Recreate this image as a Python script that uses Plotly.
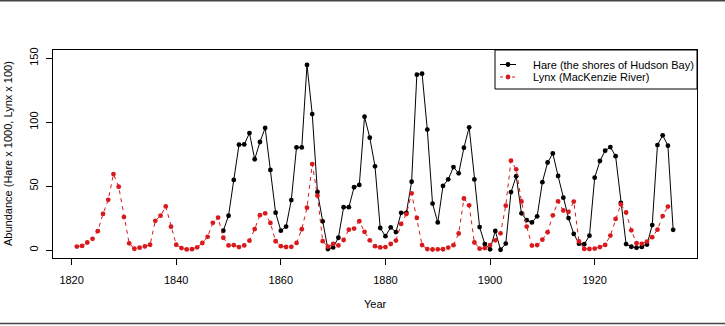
import plotly.graph_objects as go

# ---------------- data ----------------
lynx_years = list(range(1821, 1935))
lynx_values = [
    2.69, 3.21, 5.85, 8.71, 14.75, 28.21, 39.28, 59.43, 49.50, 25.77,
    5.23, 0.98, 1.84, 2.79, 4.09, 22.85, 26.85, 34.09, 18.24, 4.09,
    1.51, 0.45, 0.68, 2.13, 5.46, 10.33, 21.29, 25.36, 9.57, 3.61,
    3.77, 2.25, 3.60, 7.31, 16.38, 27.25, 28.71, 21.19, 6.84, 2.99,
    2.36, 2.45, 5.52, 16.23, 33.11, 67.21, 42.54, 6.87, 2.55, 4.73,
    3.58, 7.84, 15.94, 16.76, 22.51, 14.26, 7.56, 2.99, 2.01, 2.29,
    4.69, 7.36, 20.42, 28.11, 44.31, 25.11, 3.89, 0.73, 0.39, 0.49,
    0.59, 1.88, 3.77, 12.92, 40.31, 34.95, 5.87, 1.05, 1.53, 3.87,
    7.58, 13.07, 34.65, 69.91, 63.13, 37.94, 18.36, 3.45, 3.82, 8.08,
    13.88, 27.13, 38.00, 30.91, 29.85, 37.90, 6.74, 0.81, 0.80, 1.08,
    2.29, 3.99, 11.32, 24.32, 35.74, 29.35, 15.37, 5.29, 4.85, 6.62,
    10.00, 15.90, 26.57, 33.96,
]

hare_years = list(range(1849, 1936))
hare_values = [
    15.1, 26.8, 54.8, 82.4, 82.6, 91.5, 71.0, 84.5, 95.5, 62.6,
    29.2, 15.1, 18.3, 39.1, 80.3, 80.3, 144.8, 106.4, 45.4, 22.4,
    0.8, 2.0, 9.6, 33.5, 33.5, 49.1, 50.9, 104.3, 87.9, 65.5,
    17.2, 10.8, 17.7, 14.0, 29.1, 29.1, 53.4, 137.2, 138.0, 94.2,
    36.3, 21.6, 50.1, 55.3, 64.9, 60.0, 80.0, 96.0, 55.2, 17.9,
    4.6, 0.5, 14.9, 0.2, 5.0, 45.3, 57.78, 28.68, 23.37, 21.54,
    26.34, 53.10, 68.48, 75.58, 57.92, 40.97, 24.95, 12.59, 4.97, 4.50,
    11.21, 56.60, 69.63, 77.74, 80.53, 73.38, 36.93, 4.64, 2.54, 1.80,
    2.39, 4.23, 19.52, 82.11, 89.76, 81.66, 15.76,
]

x_ticks = [1820, 1840, 1860, 1880, 1900, 1920]
y_ticks = [0, 50, 100, 150]
hare_label = "Hare (the shores of Hudson Bay)"
lynx_label = "Lynx (MacKenzie River)"
x_title = "Year"
y_title = "Abundance (Hare x 1000, Lynx x 100)"

# ---------------- style ----------------
W, H = 725, 326
ML, MR, MT, MB = 53, 28, 50, 68
PW, PH = W - ML - MR, H - MT - MB
RED = "#D91A1C"
FONT = "Liberation Sans, Arial, sans-serif"
FS = 11


def px(x):
    return (x - ML) / PW


def py(y):
    return (H - MB - y) / PH


fig = go.Figure()
fig.add_trace(go.Scatter(
    x=hare_years, y=hare_values, mode="lines+markers", name=hare_label,
    line=dict(color="black", width=1),
    marker=dict(color="black", size=4.8),
    showlegend=False,
))
fig.add_trace(go.Scatter(
    x=lynx_years, y=lynx_values, mode="lines+markers", name=lynx_label,
    line=dict(color=RED, width=1, dash="4px,4px"),
    marker=dict(color=RED, size=4.8),
    showlegend=False,
))

axis_common = dict(
    showline=True, linecolor="black", linewidth=1, mirror=True,
    ticks="outside", ticklen=6, tickwidth=1, tickcolor="black",
    showgrid=False, zeroline=False,
    tickfont=dict(family=FONT, size=FS, color="black"),
)

fig.update_xaxes(range=[1816.44, 1939.56], tickvals=x_ticks,
                 ticktext=[str(v) for v in x_ticks], ticklabelstandoff=6,
                 **axis_common)
fig.update_yaxes(range=[-6.26, 156.5], tickvals=y_ticks,
                 ticktext=[str(v) for v in y_ticks], tickangle=-90,
                 ticklabelstandoff=4, **axis_common)

shapes = []
annotations = []

# legend box (drawn manually to match R's compact legend)
lx0, lx1, ly0, ly1 = 495, 697, 50, 89
shapes.append(dict(type="rect", xref="paper", yref="paper",
                   x0=px(lx0), x1=px(lx1), y0=py(ly1), y1=py(ly0),
                   line=dict(color="black", width=1), fillcolor="white",
                   layer="above"))
rows = [(64.5, "black", "solid", hare_label), (77.0, RED, "3px,3px", lynx_label)]
for ry, col, dash, lab in rows:
    shapes.append(dict(type="line", xref="paper", yref="paper",
                       x0=px(500), x1=px(516), y0=py(ry), y1=py(ry),
                       line=dict(color=col, width=1, dash=dash), layer="above"))
    shapes.append(dict(type="circle", xref="paper", yref="paper",
                       xsizemode="pixel", ysizemode="pixel",
                       xanchor=px(508), yanchor=py(ry),
                       x0=-2.4, x1=2.4, y0=-2.4, y1=2.4,
                       fillcolor=col, line=dict(color=col, width=0),
                       layer="above"))
    annotations.append(dict(xref="paper", yref="paper", x=px(531), y=py(ry),
                            xanchor="left", yanchor="middle", showarrow=False,
                            text=lab, font=dict(family=FONT, size=FS, color="black")))

# axis titles
annotations.append(dict(xref="paper", yref="paper", x=px((ML + W - MR) / 2), y=py(304),
                        xanchor="center", yanchor="middle", showarrow=False,
                        text=x_title, font=dict(family=FONT, size=FS, color="black")))
annotations.append(dict(xref="paper", yref="paper", x=px(8), y=0.5,
                        xanchor="center", yanchor="middle", showarrow=False,
                        textangle=-90, text=y_title,
                        font=dict(family=FONT, size=FS, color="black")))

# outer frame lines of the original screenshot
frame = dict(color="#444444", width=1.5)
shapes.append(dict(type="line", xref="paper", yref="paper",
                   x0=px(0), x1=px(W), y0=py(0.75), y1=py(0.75), line=frame))
shapes.append(dict(type="line", xref="paper", yref="paper",
                   x0=px(0), x1=px(W), y0=py(323.5), y1=py(323.5), line=frame))

fig.update_layout(
    width=W, height=H,
    margin=dict(l=ML, r=MR, t=MT, b=MB, pad=0),
    paper_bgcolor="white", plot_bgcolor="white",
    font=dict(family=FONT, size=FS, color="black"),
    showlegend=False,
    shapes=shapes, annotations=annotations,
)

fig.write_html("out.html")
